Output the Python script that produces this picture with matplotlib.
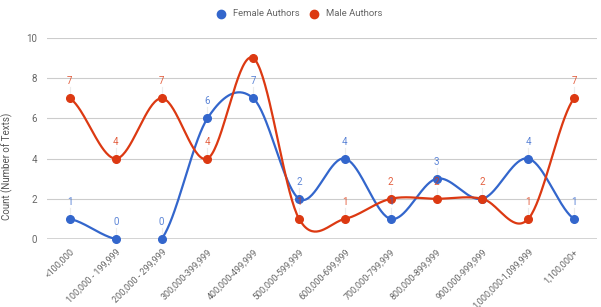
import numpy as np
import matplotlib.pyplot as plt
from matplotlib.lines import Line2D

plt.rcParams['font.family'] = ['Roboto', 'DejaVu Sans']

categories = ['<100,000', '100,000 - 199,999', '200,000 - 299,999', '300,000-399,999',
              '400,000-499,999', '500,000-599,999', '600,000-699,999', '700,000-799,999',
              '800,000-899,999', '900,000-999,999', '1,000,000-1,099,999', '1,100,000+']
female = [1, 0, 0, 6, 7, 2, 4, 1, 3, 2, 4, 1]
male = [7, 4, 7, 4, 9, 1, 1, 2, 2, 2, 1, 7]
# which data labels google charts actually shows (overlaps get hidden)
female_show = [1, 1, 1, 1, 1, 1, 1, 1, 1, 0, 1, 1]
male_show = [1, 1, 1, 1, 0, 1, 1, 1, 1, 1, 1, 1]

blue = '#3366cc'
red = '#dc3912'
grey = '#666666'


def smooth(y, n=40):
    # catmull-rom style spline through the points, like curveType: 'function'
    y = np.asarray(y, dtype=float)
    m = np.zeros_like(y)
    m[1:-1] = (y[2:] - y[:-2]) / 2
    m[0] = (y[1] - y[0]) / 2
    m[-1] = (y[-1] - y[-2]) / 2
    xs, ys = [], []
    t = np.linspace(0, 1, n)
    h00 = 2 * t**3 - 3 * t**2 + 1
    h10 = t**3 - 2 * t**2 + t
    h01 = -2 * t**3 + 3 * t**2
    h11 = t**3 - t**2
    for i in range(len(y) - 1):
        xs.append(i + t)
        ys.append(h00 * y[i] + h10 * m[i] + h01 * y[i + 1] + h11 * m[i + 1])
    return np.concatenate(xs), np.concatenate(ys)


fig = plt.figure(figsize=(6.01, 3.07), dpi=100)
ax = fig.add_axes([47 / 601, 1 - 239 / 307, 550 / 601, 201 / 307])

x = np.arange(len(categories))
for vals, show, col in [(female, female_show, blue), (male, male_show, red)]:
    sx, sy = smooth(vals)
    ax.plot(sx, sy, color=col, lw=1.6, zorder=3)
    ax.plot(x, vals, 'o', color=col, ms=5.5, zorder=4, clip_on=False)
    for xi, v, s in zip(x, vals, show):
        if s:
            ax.plot([xi, xi], [v + 0.15, v + 0.55], color='#ececec', lw=0.8, zorder=1)
            ax.text(xi, v + 0.85, str(v), color=col, alpha=0.8, fontsize=7,
                    ha='center', va='center', zorder=5)

ax.set_xlim(-0.5, len(categories) - 0.5)
ax.set_ylim(0, 10)
ax.set_yticks([0, 2, 4, 6, 8, 10])
ax.grid(axis='y', color='#cccccc', lw=0.8)
ax.axhline(0, color='#333333', lw=1, zorder=2)
for sp in ax.spines.values():
    sp.set_visible(False)
ax.tick_params(length=0, labelsize=7, colors=grey)
ax.tick_params(axis='y', pad=7)
ax.set_xticks(x)
ax.set_xticklabels(categories, rotation=45, ha='right', va='top',
                   rotation_mode='anchor', fontsize=6.5, color=grey)
ax.tick_params(axis='x', pad=6)

fig.text(7 / 601, 1 - 166 / 307, 'Count (Number of Texts)', rotation=90,
         ha='center', va='center', fontsize=7, color='#555555')

# legend, placed by hand like the google charts top legend
ly = 1 - 14 / 307
for cx, tx, label, col in [(221, 233, 'Female Authors', blue), (314, 326, 'Male Authors', red)]:
    fig.add_artist(Line2D([cx / 601], [ly], ls='none', marker='o', ms=6, color=col,
                          transform=fig.transFigure))
    fig.text(tx / 601, ly, label, ha='left', va='center', fontsize=6.8, color=grey)

fig.savefig('out.png', dpi=100)
